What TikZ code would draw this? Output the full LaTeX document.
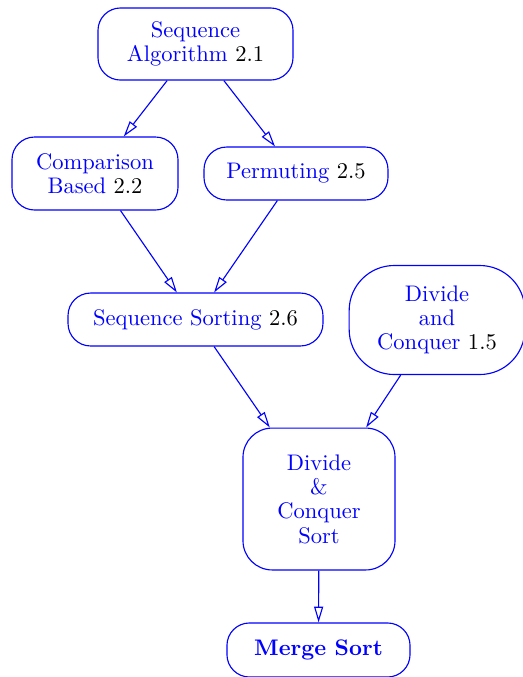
\documentclass[tikz,border=0pt]{standalone}
\usetikzlibrary{arrows.meta}
\tikzset{
  topic/.style={draw=blue,text=blue,rounded corners=10pt,align=center,inner sep=0pt,
    line width=0.5pt,font=\fontsize{10pt}{10.8pt}\selectfont},
  dep/.style={draw=blue,line width=0.5pt,-{Triangle[open,length=7pt,width=4pt]}},
}
\newcommand{\secno}[1]{{\color{black}#1}}
\begin{document}
\begin{tikzpicture}[x=0.444pt,y=-0.444pt]
  \useasboundingbox (0,0) rectangle (523,677);
  \node[topic,minimum width=86.6pt,minimum height=32pt] (seqalg) at (195.5,44) {Sequence\\Algorithm \secno{2.1}};
  \node[topic,minimum width=73.7pt,minimum height=32.4pt] (compbased) at (95,173.5) {Comparison\\Based \secno{2.2}};
  \node[topic,minimum width=81.7pt,minimum height=23.5pt] (permuting) at (296,173.5) {Permuting \secno{2.5}};
  \node[topic,minimum width=113.2pt,minimum height=23.5pt] (seqsort) at (195.5,319.5) {Sequence Sorting \secno{2.6}};
  \node[topic,rounded corners=20pt,minimum width=78pt,minimum height=48.4pt] (divconq) at (437,320) {Divide\\and\\Conquer \secno{1.5}};
  \node[topic,rounded corners=13pt,minimum width=67.5pt,minimum height=63pt] (dcsort) at (319,499) {Divide\\\&\\Conquer\\Sort};
  \node[topic,minimum width=81.3pt,minimum height=24pt] (merge) at (318.5,650) {\textbf{Merge Sort}};
  % dependencies
  \draw[dep] (seqalg) -- (compbased);
  \draw[dep] (seqalg) -- (permuting);
  \draw[dep] (compbased) -- (seqsort);
  \draw[dep] (permuting) -- (seqsort);
  \draw[dep] (seqsort) -- (dcsort);
  \draw[dep] (divconq) -- (dcsort);
  \draw[dep] (dcsort) -- (merge);
\end{tikzpicture}
\end{document}
